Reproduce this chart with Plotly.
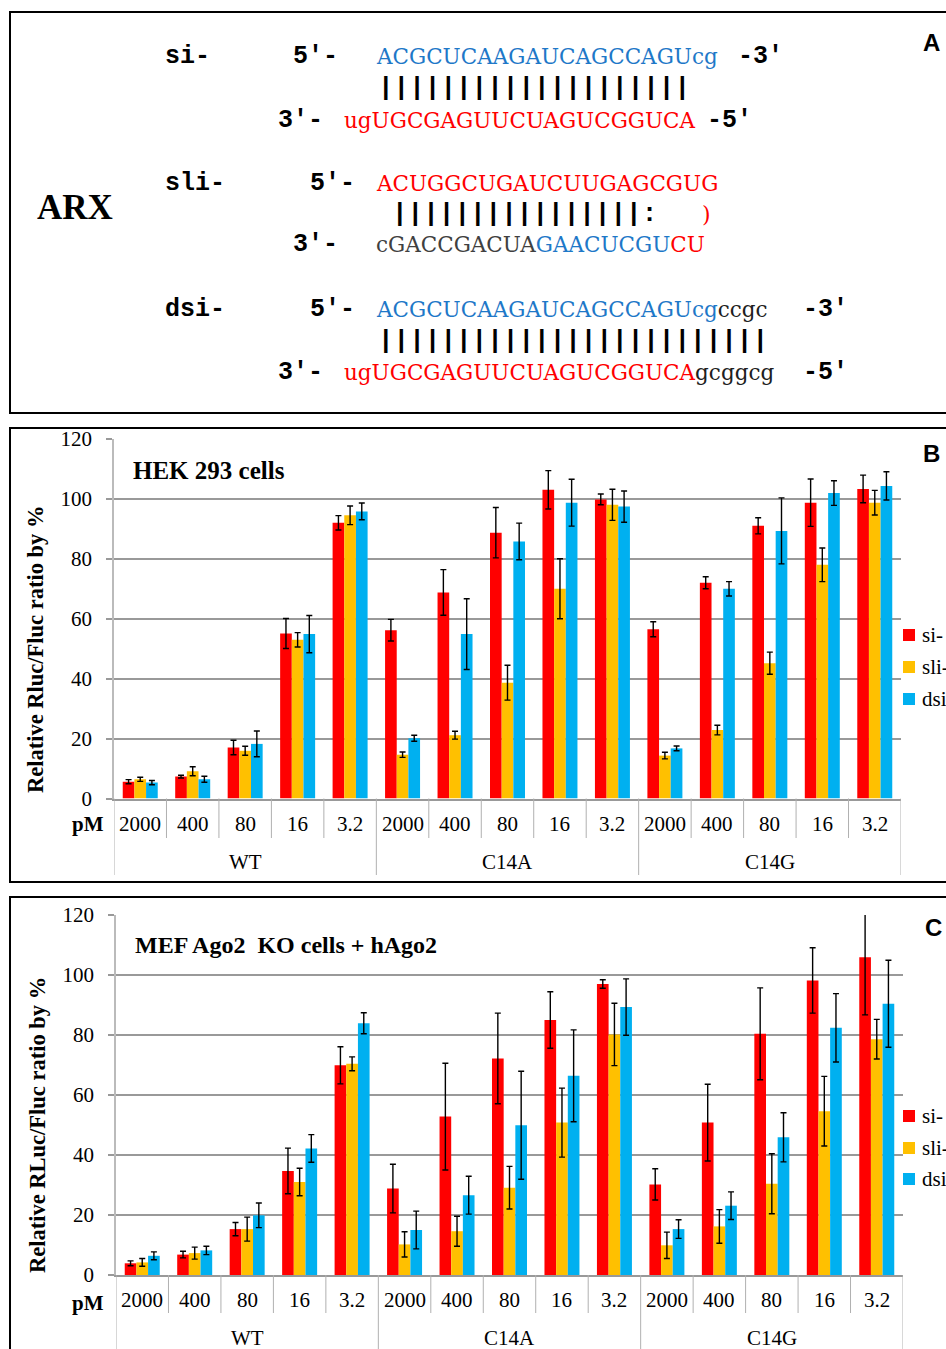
import plotly.graph_objects as go

# ---------------- data ----------------
conc = ["2000", "400", "80", "16", "3.2"]
groups = ["WT", "C14A", "C14G"]
series = ["si-", "sli-", "dsi-"]

hek_si = [5.6, 7.3, 17.0, 55.0, 91.9, 56.1, 68.7, 88.6, 102.9, 99.7, 56.4, 71.9, 90.9, 98.6, 103.2]
hek_si_err = [0.7, 0.45, 2.4, 5.0, 2.4, 3.6, 7.6, 8.4, 6.4, 1.8, 2.5, 2.0, 2.7, 7.9, 4.6]
hek_sli = [6.4, 9.1, 15.9, 52.9, 94.4, 14.6, 21.1, 38.6, 69.9, 97.9, 14.3, 22.8, 45.1, 77.9, 98.6]
hek_sli_err = [0.7, 1.5, 1.5, 2.4, 3.1, 0.9, 1.3, 5.8, 10.0, 5.2, 1.1, 1.6, 3.7, 5.6, 4.1]
hek_dsi = [5.3, 6.4, 18.2, 54.8, 95.7, 20.1, 54.8, 85.7, 98.6, 97.3, 16.7, 69.9, 89.2, 101.8, 104.2]
hek_dsi_err = [0.7, 1.0, 4.3, 6.2, 2.8, 1.0, 11.8, 6.1, 7.8, 5.2, 0.8, 2.4, 11.0, 4.1, 4.7]

mef_si = [3.9, 6.8, 15.3, 34.7, 69.9, 28.8, 52.8, 72.2, 85.0, 97.0, 30.2, 50.8, 80.4, 98.2, 105.9]
mef_si_err = [0.8, 1.1, 2.2, 7.6, 6.2, 8.1, 17.8, 15.1, 9.4, 1.4, 5.2, 12.8, 15.3, 10.9, 19.2]
mef_sli = [4.2, 7.3, 15.3, 31.0, 70.4, 10.2, 14.6, 29.1, 50.8, 80.2, 9.9, 16.2, 30.4, 54.6, 78.6]
mef_sli_err = [1.3, 2.0, 4.0, 4.6, 2.3, 4.2, 5.0, 7.1, 11.5, 10.4, 4.4, 5.6, 10.0, 11.6, 6.6]
mef_dsi = [6.4, 8.2, 19.9, 42.2, 83.9, 15.0, 26.6, 49.9, 66.4, 89.3, 15.3, 23.1, 45.9, 82.4, 90.4]
mef_dsi_err = [1.3, 1.4, 4.1, 4.6, 3.5, 6.3, 6.3, 18.0, 15.3, 9.4, 3.1, 4.6, 8.2, 11.4, 14.5]

yticks = [0, 20, 40, 60, 80, 100, 120]

# ---------------- styling ----------------
W, H = 946, 1349
COLORS = ["#FF0000", "#FFC000", "#00B0F0"]
SERIF = "Liberation Serif"
MONO = "Liberation Mono"
SEQ = "DejaVu Serif"
BLUE = "#1E78C8"
RED = "#FF0000"
GRAY = "#404040"


def px(x):
    return x / W


def py(y):
    return 1 - y / H


n = len(conc) * len(groups)
xs = list(range(n))
fig = go.Figure()

panels = [
    dict(ax="x", ay="y", vals=[hek_si, hek_sli, hek_dsi], errs=[hek_si_err, hek_sli_err, hek_dsi_err],
         x0=114, x1=901, ytop=438.5, ybot=798.5),
    dict(ax="x2", ay="y2", vals=[mef_si, mef_sli, mef_dsi], errs=[mef_si_err, mef_sli_err, mef_dsi_err],
         x0=116, x1=903, ytop=915, ybot=1275),
]

for p in panels:
    for name, v, e, c in zip(series, p["vals"], p["errs"], COLORS):
        fig.add_trace(go.Bar(
            x=xs, y=v, name=name, xaxis=p["ax"], yaxis=p["ay"],
            marker=dict(color=c, line=dict(width=0)),
            error_y=dict(type="data", array=e, color="black", thickness=1.4, width=3),
            showlegend=False,
        ))

layout_axes = {}
for i, p in enumerate(panels):
    xk = "xaxis" if i == 0 else "xaxis2"
    yk = "yaxis" if i == 0 else "yaxis2"
    layout_axes[xk] = dict(
        domain=[px(p["x0"]), px(p["x1"])], range=[-0.5, n - 0.5],
        showticklabels=False, showgrid=False, zeroline=False,
        showline=True, linecolor="#999999", linewidth=1.5,
        anchor=p["ay"], ticks="", automargin=False,
    )
    layout_axes[yk] = dict(
        domain=[py(p["ybot"]), py(p["ytop"])], range=[0, 120],
        tickvals=yticks, showgrid=True, gridcolor="#999999", gridwidth=1.5,
        showline=True, linecolor="#BBBBBB", linewidth=1.5,
        ticks="outside", ticklen=6, tickcolor="#999999", tickwidth=1.5,
        ticklabelstandoff=10, automargin=False,
        tickfont=dict(family=SERIF, size=21, color="black"),
        zeroline=False, anchor=p["ax"],
    )

shapes = []
annotations = []


def ann(text, x, y, size, family=SERIF, color="black", xanchor="left", angle=0, bold=False, **kw):
    if bold:
        text = "<b>" + text + "</b>"
    annotations.append(dict(
        text=text, x=px(x), y=py(y), xref="paper", yref="paper",
        xanchor=xanchor, yanchor="middle", showarrow=False, textangle=angle,
        font=dict(family=family, size=size, color=color), **kw))


# panel boxes
for (y0, y1) in [(12, 413), (428, 882), (897, 1365)]:
    shapes.append(dict(type="rect", xref="paper", yref="paper",
                       x0=px(10), x1=px(960), y0=py(y1), y1=py(y0),
                       line=dict(color="black", width=2)))

# ---------- category separators, labels, legends ----------
cat_rows = [(824, 862, 838, 875, 824), (1300, 1338, 1313, 1360, 1303)]
legend_rows = [(635, 667, 699), (1116, 1148, 1179)]
for i, p in enumerate(panels):
    xr = "x" if i == 0 else "x2"
    lab_y, grp_y, inner_end, grp_end, pm_y = cat_rows[i]
    for k in range(n + 1):
        end = grp_end if k % len(conc) == 0 else inner_end
        shapes.append(dict(type="line", xref=xr, yref="paper",
                           x0=k - 0.5, x1=k - 0.5, y0=py(p["ybot"]), y1=py(end),
                           line=dict(color="#B0B0B0", width=1)))
    for k in range(n):
        annotations.append(dict(text=conc[k % len(conc)], x=k, y=py(lab_y), xref=xr, yref="paper",
                                showarrow=False, xanchor="center", yanchor="middle",
                                font=dict(family=SERIF, size=21, color="black")))
    for g, gname in enumerate(groups):
        annotations.append(dict(text=gname, x=g * len(conc) + (len(conc) - 1) / 2, y=py(grp_y),
                                xref=xr, yref="paper", showarrow=False, xanchor="center",
                                yanchor="middle", font=dict(family=SERIF, size=21, color="black")))
    ann("pM", 88, pm_y, 21, xanchor="center", bold=True)
    for name, c, ly in zip(series, COLORS, legend_rows[i]):
        shapes.append(dict(type="rect", xref="paper", yref="paper",
                           x0=px(903), x1=px(915), y0=py(ly + 6), y1=py(ly - 6),
                           fillcolor=c, line=dict(width=0)))
        ann(name, 920, ly, 21)

# titles in chart panels
ann("HEK 293 cells", 131, 471, 25, bold=True)
ann("MEF Ago2  KO cells + hAgo2", 133, 945, 24, bold=True)
ann("Relative Rluc/Fluc ratio by %", 35, 650, 22.5, xanchor="center", angle=-90, bold=True)
ann("Relative RLuc/Fluc ratio by %", 37, 1125, 22.5, xanchor="center", angle=-90, bold=True)

# panel letters
ann("A", 931, 43, 24, family="Liberation Sans", xanchor="center", bold=True)
ann("B", 931, 453, 24, family="Liberation Sans", xanchor="center", bold=True)
ann("C", 933, 927, 24, family="Liberation Sans", xanchor="center", bold=True)

# ---------- panel A: sequences ----------
ann("ARX", 75, 207, 35, xanchor="center", bold=True)


def span(t, c):
    return '<span style="color:%s">%s</span>' % (c, t)


LBL = 25
SQ = 21.5
BAR = 26
# si-
ann("si-", 163, 57, LBL, family=MONO, bold=True)
ann("5′-", 291, 57, LBL, family=MONO, bold=True)
ann(span("ACGCUCAAGAUCAGCCAGUcg", BLUE), 374, 57, SQ, family=SEQ)
ann("-3′", 736, 57, LBL, family=MONO, bold=True)
ann("|" * 20, 376, 88, BAR, family=MONO, bold=True)
ann("3′-", 276, 120, LBL, family=MONO, bold=True)
ann(span("ugUGCGAGUUCUAGUCGGUCA", RED), 342, 120, SQ, family=SEQ)
ann("-5′", 705, 120, LBL, family=MONO, bold=True)
# sli-
ann("sli-", 163, 183, LBL, family=MONO, bold=True)
ann("5′-", 308, 183, LBL, family=MONO, bold=True)
ann(span("ACUGGCUGAUCUUGAGCGUG", RED), 374, 183, SQ, family=SEQ)
ann("|" * 16 + ":", 390, 214, BAR, family=MONO, bold=True)
ann(span(")", RED), 700, 214, 22, family=SEQ)
ann("3′-", 291, 245, LBL, family=MONO, bold=True)
ann(span("cGACCGACUA", GRAY) + span("GAACUCGU", BLUE) + span("CU", RED), 374, 245, SQ, family=SEQ)
# dsi-
ann("dsi-", 163, 309, LBL, family=MONO, bold=True)
ann("5′-", 308, 309, LBL, family=MONO, bold=True)
ann(span("ACGCUCAAGAUCAGCCAGUcg", BLUE) + span("ccgc", "#202020"), 374, 309, SQ, family=SEQ)
ann("-3′", 801, 309, LBL, family=MONO, bold=True)
ann("|" * 25, 376, 341, BAR, family=MONO, bold=True)
ann("3′-", 276, 372, LBL, family=MONO, bold=True)
ann(span("ugUGCGAGUUCUAGUCGGUCA", RED) + span("gcggcg", "#202020"), 342, 372, SQ, family=SEQ)
ann("-5′", 801, 372, LBL, family=MONO, bold=True)

fig.update_layout(
    width=W, height=H, margin=dict(l=0, r=0, t=0, b=0, pad=0, autoexpand=False),
    paper_bgcolor="white", plot_bgcolor="white",
    barmode="group", bargap=0.333, bargroupgap=0,
    shapes=shapes, annotations=annotations, showlegend=False,
    **layout_axes,
)

fig.write_html("out.html", config={"displayModeBar": False},
               post_script="document.body.style.margin='0';document.body.style.overflow='hidden';")
